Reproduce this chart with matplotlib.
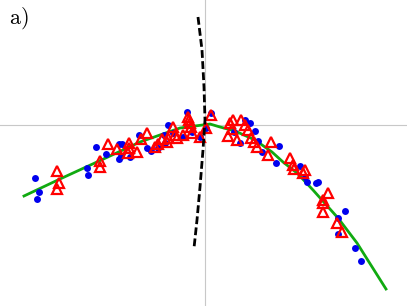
import numpy as np
import matplotlib
matplotlib.use('Agg')
import matplotlib.pyplot as plt

plt.rcParams['mathtext.fontset'] = 'cm'

# measured points (blue dots)
blue_x = [-1.70, -1.66, -1.68, -1.18, -1.17, -1.09, -0.99, -0.86, -0.83, -0.86,
          -0.84, -0.75, -0.66, -0.58, -0.54, -0.47, -0.41, -0.40, -0.37, -0.32,
          -0.22, -0.18, -0.13, -0.05, 0.01, 0.06, 0.40, 0.45, 0.29, 0.35,
          0.50, 0.53, 0.74, 0.57, 0.71, 0.95, 1.00, 1.02, 1.11, 1.13,
          1.40, 1.33, 1.33, 1.50, 1.56]
blue_y = [-0.53, -0.67, -0.74, -0.43, -0.50, -0.22, -0.29, -0.19, -0.19, -0.34,
          -0.31, -0.32, -0.10, -0.23, -0.26, -0.23, -0.10, -0.18, 0.00, -0.08,
          -0.12, 0.13, -0.07, -0.12, -0.03, 0.12, 0.05, 0.02, -0.07, -0.18,
          -0.06, -0.16, -0.21, -0.27, -0.38, -0.41, -0.52, -0.57, -0.58, -0.57,
          -0.86, -0.93, -1.09, -1.23, -1.36]

# measured points (red triangles)
red_x = [-1.48, -1.46, -1.48, -1.05, -1.05, -0.97, -0.88, -0.77, -0.76, -0.76,
         -0.68, -0.64, -0.58, -0.50, -0.47, -0.43, -0.38, -0.37, -0.32, -0.30,
         -0.28, -0.22, -0.17, -0.16, -0.14, -0.13, -0.15, -0.05, 0.01, 0.06,
         0.25, 0.28, 0.36, 0.40, 0.23, 0.27, 0.32, 0.43, 0.46, 0.49,
         0.52, 0.66, 0.63, 0.85, 0.88, 0.89, 1.00, 0.98, 1.23, 1.18,
         1.18, 1.18, 1.32, 1.37]
red_y = [-0.46, -0.58, -0.64, -0.36, -0.42, -0.19, -0.24, -0.28, -0.18, -0.23,
         -0.27, -0.14, -0.08, -0.22, -0.19, -0.14, -0.17, -0.13, -0.02, -0.10,
         -0.13, -0.10, 0.08, 0.05, -0.02, -0.08, 0.02, -0.12, -0.03, 0.10,
         0.02, 0.05, 0.05, 0.00, -0.11, -0.04, -0.15, -0.05, -0.13, -0.17,
         -0.22, -0.17, -0.30, -0.33, -0.40, -0.44, -0.45, -0.48, -0.68, -0.75,
         -0.78, -0.87, -0.98, -1.07]

# fitted curve (green)
fit_x = [-1.81, -1.45, -0.95, -0.65, -0.45, -0.25, 0.05, 0.15, 0.30, 0.50,
         0.67, 0.78, 0.92, 1.08, 1.33, 1.52, 1.81]
fit_y = [-0.71, -0.54, -0.31, -0.17, -0.10, -0.03, 0.01, -0.02, -0.06, -0.15,
         -0.27, -0.37, -0.48, -0.65, -0.93, -1.18, -1.64]

# dashed curve
dash_x = [-0.07, -0.03, -0.01, 0.00, -0.02, -0.05, -0.08, -0.11]
dash_y = [1.08, 0.75, 0.38, 0.05, -0.25, -0.62, -0.95, -1.23]

fig = plt.figure(figsize=(4.07, 3.06), dpi=100)
ax = fig.add_axes([0, 0, 1, 1])
ax.set_xlim(-2.05, 2.02)
ax.set_ylim(-1.81, 1.25)
ax.axis('off')

ax.axhline(0, color='#c8c8c8', lw=0.8, zorder=0)
ax.axvline(0, color='#c8c8c8', lw=0.8, zorder=0)

ax.plot(blue_x, blue_y, 'o', color='#0000ee', ms=5, mec='none', zorder=2)
ax.plot(red_x, red_y, '^', mfc='none', mec='#ff0000', ms=7.5, mew=1.6, zorder=3)
ax.plot(fit_x, fit_y, color='#11aa11', lw=2.0, zorder=1)
ax.plot(dash_x, dash_y, color='black', lw=2.0, dashes=(2.8, 1.2), zorder=4)

fig.text(9 / 407, 1 - 24 / 306, r'$\mathrm{a)}$', fontsize=16, va='baseline')

fig.savefig('out.png', dpi=100)
